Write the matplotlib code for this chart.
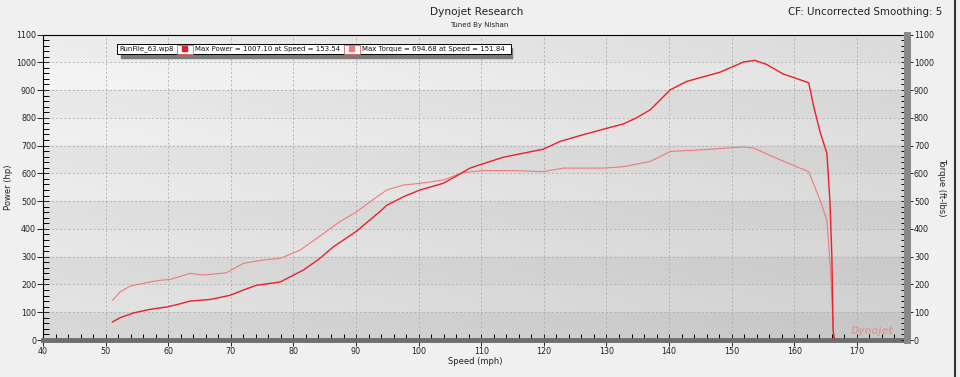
"""Dynojet power / torque run chart."""

import matplotlib
matplotlib.use("Agg")
import matplotlib.pyplot as plt
import numpy as np
from matplotlib.patches import Rectangle
from matplotlib.ticker import MultipleLocator

# speed (mph) vs power (hp)
power_speed = [51.1, 52.3, 54.4, 57.0, 59.8, 61.5, 63.5, 66.7, 69.9, 72.0, 74.1,
               77.9, 81.6, 84.0, 86.4, 90.1, 92.2, 93.8, 94.9, 97.6, 100.2, 103.9,
               106.0, 108.2, 113.5, 119.9, 122.6, 125.3, 129.5, 132.7, 134.8,
               137.0, 140.2, 142.8, 148.1, 151.9, 153.7, 155.6, 158.2, 161.7,
               162.3, 163.1, 164.1, 165.2, 165.7, 166.0, 166.2, 166.4]
power_hp = [65, 80, 97, 110, 119, 128, 140, 146, 161, 180, 197,
            209, 252, 290, 336, 392, 432, 462, 485, 516, 540, 564,
            590, 619, 658, 687, 715, 733, 759, 778, 800,
            829, 901, 931, 964, 1001, 1007, 992, 958, 931,
            926, 841, 750, 673, 498, 300, 35, 0]

# speed (mph) vs torque (ft-lbs)
torque_speed = [51.1, 52.3, 53.9, 57.1, 58.7, 60.3, 63.5, 65.6, 69.3, 72.0,
                75.2, 77.9, 81.1, 83.7, 87.4, 90.1, 92.2, 94.9, 97.6, 100.2,
                103.9, 107.1, 110.3, 115.1, 119.9, 123.1, 126.3, 129.5, 132.7,
                137.0, 140.2, 145.5, 150.3, 151.8, 153.5, 157.7, 162.3, 164.1,
                165.2, 165.8, 166.2, 166.4]
torque_ftlb = [143, 173, 194, 209, 215, 218, 240, 234, 242, 276,
               288, 294, 324, 366, 426, 462, 497, 540, 558, 564,
               576, 603, 610, 610, 606, 619, 619, 619, 624,
               643, 679, 685, 693, 695, 691, 649, 606, 504,
               432, 250, 40, 0]

x_min, x_max = 40, 178
y_min, y_max = 0, 1100

POWER_COLOR = "#e8202a"
TORQUE_COLOR = "#f07a7a"
TEXT_COLOR = "#222222"

fig = plt.figure(figsize=(9.6, 3.77), dpi=100, facecolor="#f0f0f0")
ax = fig.add_axes([43 / 960, 1 - 340 / 377, (907 - 43) / 960, (340 - 34.5) / 377])

# shaded background: diagonal gradient with alternating 100-unit bands
gx = np.linspace(0, 1, 200)
gy = np.linspace(0, 1, 1100)
GX, GY = np.meshgrid(gx, gy)
shade = 0.975 - 0.07 * GX - 0.09 * (1 - GY)
band = (np.floor(gy * 11) % 2 == 0)[:, None]
shade = shade - 0.035 * band - 0.015 * (((gy * 11) % 1)[:, None])
ax.imshow(shade, cmap="gray", vmin=0, vmax=1, origin="lower", aspect="auto",
          extent=[x_min, x_max, y_min, y_max], zorder=0, interpolation="bilinear")

ax.set_xlim(x_min, x_max)
ax.set_ylim(y_min, y_max)
ax.grid(True, which="major", color="#b0b0b0", linestyle=(0, (2.5, 2.5)),
        linewidth=0.6)

ax.plot(torque_speed, torque_ftlb, color=TORQUE_COLOR, lw=0.8, zorder=3)
ax.plot(power_speed, power_hp, color=POWER_COLOR, lw=1.0, zorder=4)

ax.xaxis.set_major_locator(MultipleLocator(10))
ax.xaxis.set_minor_locator(MultipleLocator(2))
ax.yaxis.set_major_locator(MultipleLocator(100))
ax.yaxis.set_minor_locator(MultipleLocator(20))
ax.tick_params(axis="x", which="major", direction="inout", length=8, width=0.7,
               labelsize=5.8, pad=1, colors=TEXT_COLOR)
ax.tick_params(axis="x", which="minor", direction="in", length=4, width=0.7)
ax.tick_params(axis="y", which="major", direction="inout", length=8, width=0.7,
               labelsize=5.8, pad=1, colors=TEXT_COLOR)
ax.tick_params(axis="y", which="minor", direction="in", length=4, width=0.7)

ax.spines["top"].set_linewidth(0.8)
ax.spines["left"].set_linewidth(0.8)
ax.spines["bottom"].set_color("#6e6e6e")
ax.spines["bottom"].set_linewidth(3.5)
ax.spines["right"].set_visible(False)

ax.set_xlabel("Speed (mph)", fontsize=6, labelpad=1, color=TEXT_COLOR)
ax.set_ylabel("Power (hp)", fontsize=6, labelpad=2, color=TEXT_COLOR)

# torque axis on the right
ax2 = ax.twinx()
ax2.set_ylim(y_min, y_max)
ax2.yaxis.set_major_locator(MultipleLocator(100))
ax2.yaxis.set_minor_locator(MultipleLocator(20))
ax2.tick_params(axis="y", which="major", direction="inout", length=8, width=0.7,
                labelsize=5.8, pad=1, colors=TEXT_COLOR)
ax2.tick_params(axis="y", which="minor", direction="in", length=4, width=0.7)
for s in ("top", "left", "bottom"):
    ax2.spines[s].set_visible(False)
ax2.spines["right"].set_color("#888888")
ax2.spines["right"].set_linewidth(5)
ax2.set_ylabel("Torque (ft-lbs)", fontsize=6, rotation=270, labelpad=9,
               color=TEXT_COLOR)

# titles
fig.text(477 / 960, 1 - 12 / 377, "Dynojet Research", ha="center", va="center",
         fontsize=7.6, color=TEXT_COLOR)
fig.text(479 / 960, 1 - 25 / 377, "Tuned By Nishan", ha="center", va="center",
         fontsize=5, color=TEXT_COLOR)
fig.text(942 / 960, 1 - 12 / 377, "CF: Uncorrected Smoothing: 5", ha="right",
         va="center", fontsize=7.4, color=TEXT_COLOR)

# legend strip with drop shadow
ly0, lh = 1 - 54 / 377, 10 / 377
fig.patches.append(Rectangle((121 / 960, ly0 - 4 / 377), 391 / 960, lh,
                             transform=fig.transFigure, color="#7a7a7a", zorder=5))
fig.patches.append(Rectangle((117 / 960, ly0), 394 / 960, lh,
                             transform=fig.transFigure, facecolor="white",
                             edgecolor="black", lw=0.7, zorder=6))
for bx in (177, 344):
    fig.patches.append(Rectangle((bx / 960, ly0 + 0.5 / 377), 16 / 960, 9 / 377,
                                 transform=fig.transFigure, facecolor="white",
                                 edgecolor="#e06060", lw=0.6, zorder=7))
fig.patches.append(Rectangle((182 / 960, ly0 + 3 / 377), 5 / 960, 5 / 377,
                             transform=fig.transFigure, color=POWER_COLOR, zorder=8))
fig.patches.append(Rectangle((349 / 960, ly0 + 3 / 377), 5 / 960, 5 / 377,
                             transform=fig.transFigure, color=TORQUE_COLOR, zorder=8))
legend_texts = [(119, "RunFile_63.wp8"),
                (195, "Max Power = 1007.10 at Speed = 153.54"),
                (362, "Max Torque = 694.68 at Speed = 151.84")]
for tx, label in legend_texts:
    fig.text(tx / 960, ly0 + lh / 2, label, ha="left", va="center", fontsize=5.0,
             color="#111111", zorder=9)

# faint watermark
ax.text(0.985, 0.012, "Dynojet", transform=ax.transAxes, ha="right", va="bottom",
        fontsize=7, fontweight="bold", style="italic", color="#d88a8a", alpha=0.6,
        zorder=2)

# window edge on the right
fig.add_artist(plt.Line2D([955 / 960, 955 / 960], [0, 1], transform=fig.transFigure,
                          color="#333333", lw=1.5))

fig.savefig("out.png", dpi=100, facecolor=fig.get_facecolor())
